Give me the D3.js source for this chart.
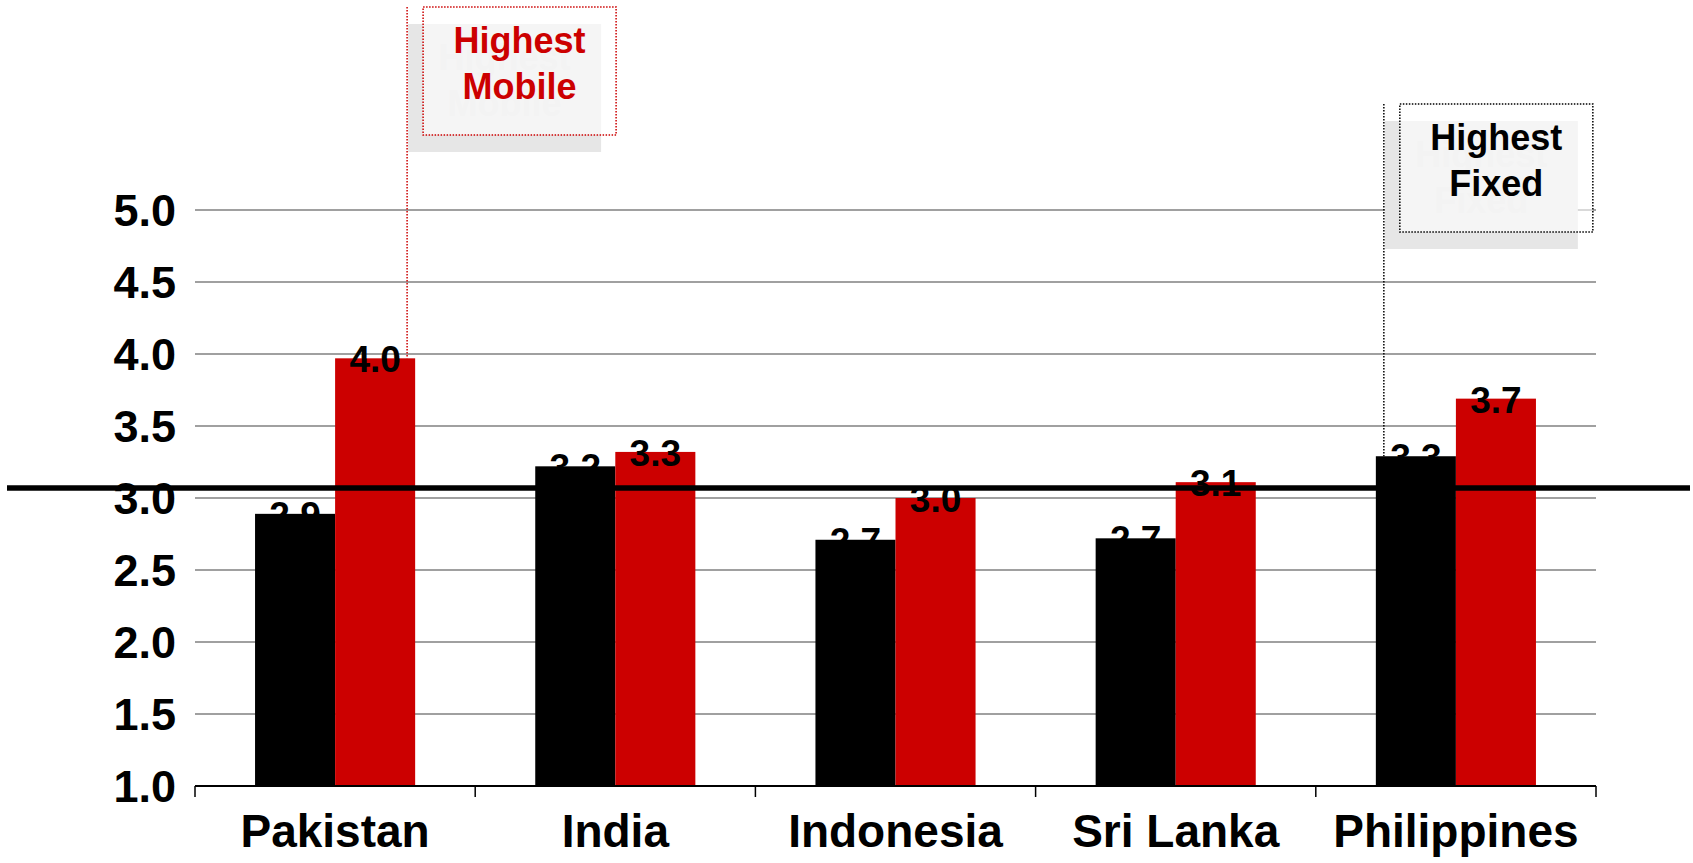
<!DOCTYPE html>
<html>
<head>
<meta charset="utf-8">
<script src="https://cdn.jsdelivr.net/npm/d3@7"></script>
<style>
  html, body { margin: 0; padding: 0; background: #fff; }
  svg { display: block; font-family: "Liberation Sans", Arial, sans-serif; font-weight: bold; }
</style>
</head>
<body>
<svg id="chart" width="1693" height="863"></svg>
<script>
var categories = ['Pakistan', 'India', 'Indonesia', 'Sri Lanka', 'Philippines'];
var series = ['Fixed', 'Mobile'];
var fixedValues = [2.89, 3.22, 2.71, 2.72, 3.29];
var mobileValues = [3.97, 3.32, 3.00, 3.11, 3.69];
var yTicks = [1.0, 1.5, 2.0, 2.5, 3.0, 3.5, 4.0, 4.5, 5.0];
var averageValue = 3.07;
var callouts = [
  { lines: ['Highest', 'Mobile'], category: 'Pakistan', serie: 'Mobile', color: '#cc0000' },
  { lines: ['Highest', 'Fixed'], category: 'Philippines', serie: 'Fixed', color: '#000000' }
];

var colors = { Fixed: '#000000', Mobile: '#cc0000' };

var svg = d3.select('#chart'),

    x = d3.scaleBand()
      .domain(categories)
      .range([195, 1596])
      .paddingInner(0.4286)
      .paddingOuter(0.2143),

    xInner = d3.scaleBand()
      .domain(series)
      .range([0, x.bandwidth()]),

    y = d3.scaleLinear()
      .domain([1, 5])
      .range([786, 210]),

    fmt = d3.format('.1f'),

    rows = categories.map(function(c, i) {
      return { category: c, values: [
        { serie: 'Fixed', value: fixedValues[i] },
        { serie: 'Mobile', value: mobileValues[i] }
      ] };
    });

// gridlines
svg.append('g')
  .selectAll('line')
  .data(yTicks.filter(function(t) { return t > 1; }))
  .enter()
    .append('line')
    .attr('x1', 195)
    .attr('x2', 1596)
    .attr('y1', function(d) { return y(d); })
    .attr('y2', function(d) { return y(d); })
    .attr('stroke', '#a0a0a0')
    .attr('stroke-width', 2);

// y tick labels
svg.append('g')
  .selectAll('text')
  .data(yTicks)
  .enter()
    .append('text')
    .attr('x', 176)
    .attr('y', function(d) { return y(d); })
    .attr('dy', '0.36em')
    .attr('text-anchor', 'end')
    .attr('font-size', 45)
    .text(function(d) { return fmt(d); });

// callout geometry (box shifted from the bar it points at)
var boxW = 193, boxH = 128, shadowDx = -15, shadowDy = 17;
callouts.forEach(function(c, i) {
  var v = c.serie === 'Fixed' ? fixedValues[categories.indexOf(c.category)]
                              : mobileValues[categories.indexOf(c.category)];
  var barX = x(c.category) + xInner(c.serie);
  c.lineX = c.serie === 'Mobile' ? barX + 72 : barX + 8;
  c.barTop = y(v);
  c.boxX = c.lineX + 16;
  c.boxY = i === 0 ? 7 : 104;
});

// drop shadow with a faint ghost of the text
var shadows = svg.append('g')
  .selectAll('g')
  .data(callouts)
  .enter()
    .append('g')
    .attr('transform', function(d) { return 'translate(' + (d.boxX + shadowDx) + ',' + (d.boxY + shadowDy) + ')'; });

shadows.append('rect')
  .attr('width', boxW)
  .attr('height', boxH)
  .attr('fill', '#e6e6e6');

shadows.each(function(d) {
  d3.select(this).selectAll('text')
    .data(d.lines)
    .enter()
      .append('text')
      .attr('x', boxW / 2)
      .attr('y', function(t, j) { return 46 + j * 46; })
      .attr('text-anchor', 'middle')
      .attr('font-size', 36)
      .attr('fill', '#e0e0e0')
      .text(function(t) { return t; });
});

// bars
var groups = svg.append('g')
  .selectAll('g')
  .data(rows)
  .enter()
    .append('g')
    .attr('transform', function(d) { return 'translate(' + x(d.category) + ',0)'; });

groups.selectAll('rect')
  .data(function(d) { return d.values; })
  .enter()
    .append('rect')
    .attr('x', function(d) { return xInner(d.serie); })
    .attr('y', function(d) { return y(d.value); })
    .attr('width', xInner.bandwidth())
    .attr('height', function(d) { return y(1) - y(d.value); })
    .attr('fill', function(d) { return colors[d.serie]; });

// x axis
var xAxis = svg.append('g');
xAxis.append('line')
  .attr('x1', 195).attr('x2', 1596)
  .attr('y1', y(1)).attr('y2', y(1))
  .attr('stroke', '#000').attr('stroke-width', 2);
xAxis.selectAll('line.tick')
  .data(categories.concat([null]))
  .enter()
    .append('line')
    .attr('class', 'tick')
    .attr('x1', function(d) { return d ? x(d) - x.step() * x.paddingOuter() : 1596; })
    .attr('x2', function(d) { return d ? x(d) - x.step() * x.paddingOuter() : 1596; })
    .attr('y1', y(1))
    .attr('y2', y(1) + 11)
    .attr('stroke', '#000')
    .attr('stroke-width', 1.5);

xAxis.selectAll('text')
  .data(categories)
  .enter()
    .append('text')
    .attr('x', function(d) { return x(d) + x.bandwidth() / 2; })
    .attr('y', 847)
    .attr('text-anchor', 'middle')
    .attr('font-size', 46)
    .text(function(d) { return d; });

// average line
svg.append('line')
  .attr('x1', 7).attr('x2', 1690)
  .attr('y1', y(averageValue)).attr('y2', y(averageValue))
  .attr('stroke', '#000')
  .attr('stroke-width', 5.5);

// value labels
groups.selectAll('text')
  .data(function(d) { return d.values; })
  .enter()
    .append('text')
    .attr('x', function(d) { return xInner(d.serie) + xInner.bandwidth() / 2; })
    .attr('y', function(d) { return y(d.value) + 14; })
    .attr('text-anchor', 'middle')
    .attr('font-size', 37)
    .attr('fill', '#000')
    .text(function(d) { return fmt(d.value); });

// callout leader lines and boxes
var boxes = svg.append('g')
  .selectAll('g')
  .data(callouts)
  .enter()
    .append('g');

boxes.append('line')
  .attr('x1', function(d) { return d.lineX; })
  .attr('x2', function(d) { return d.lineX; })
  .attr('y1', function(d) { return d.boxY; })
  .attr('y2', function(d) { return d.barTop; })
  .attr('stroke', function(d) { return d.color; })
  .attr('stroke-width', 1.5)
  .attr('stroke-dasharray', '1.5,1.5');

boxes.append('rect')
  .attr('x', function(d) { return d.boxX; })
  .attr('y', function(d) { return d.boxY; })
  .attr('width', boxW)
  .attr('height', boxH)
  .attr('fill', 'rgba(255,255,255,0.6)')
  .attr('stroke', function(d) { return d.color; })
  .attr('stroke-width', 1.5)
  .attr('stroke-dasharray', '1.5,1.5');

boxes.each(function(d) {
  d3.select(this).selectAll('text')
    .data(d.lines)
    .enter()
      .append('text')
      .attr('x', d.boxX + boxW / 2)
      .attr('y', function(t, j) { return d.boxY + 46 + j * 46; })
      .attr('text-anchor', 'middle')
      .attr('font-size', 36)
      .attr('fill', d.color)
      .text(function(t) { return t; });
});
</script>
</body>
</html>
